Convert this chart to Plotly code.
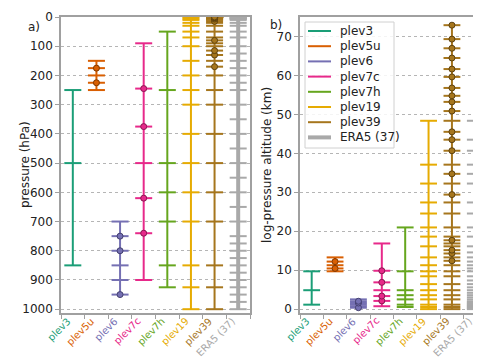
import plotly.graph_objects as go
import numpy as np

schemes = ["plev3", "plev5u", "plev6", "plev7c", "plev7h", "plev19", "plev39", "ERA5 (37)"]
plev3 = [850, 500, 250]
plev5u = [250, 225, 200, 175, 150]
plev6 = [950, 900, 850, 800, 750, 700]
plev7c = [900, 740, 620, 500, 375, 245, 90]
plev7h = [925, 850, 700, 600, 500, 250, 50]
plev19 = [1000, 925, 850, 700, 600, 500, 400, 300, 250, 200, 150, 100, 70, 50, 30, 20, 10, 5, 1]
plev39 = [1000, 925, 850, 700, 600, 500, 400, 300, 250, 200, 170, 150, 130, 115, 100, 90, 80, 70,
          50, 30, 20, 15, 10, 7, 5, 3, 2, 1.5, 1, 0.7, 0.5, 0.4, 0.3, 0.2, 0.15, 0.1, 0.07, 0.05, 0.03]
era5 = [1000, 975, 950, 925, 900, 875, 850, 825, 800, 775, 750, 700, 650, 600, 550, 500, 450, 400,
        350, 300, 250, 225, 200, 175, 150, 125, 100, 70, 50, 30, 20, 10, 7, 5, 3, 2, 1]
levels = [plev3, plev5u, plev6, plev7c, plev7h, plev19, plev39, era5]

colors = ["#1b9e77", "#d95f02", "#7570b3", "#e7298a", "#66a61e", "#e6ab02", "#a6761d", "#a9a9a9"]
edges = ["#0f5c45", "#7f3801", "#444070", "#8a1852", "#3b6111", "#8a6601", "#5e420f", "#555555"]

H = 7.0      # scale height (km)
P0 = 1000.0  # reference pressure (hPa)

# levels used by only one CMIP scheme (marked with dots)
cmip = levels[:7]
counts = {}
for lv in cmip:
    for p in lv:
        counts[p] = counts.get(p, 0) + 1

W = 0.36
fig = go.Figure()

def zfun(p):
    return H * np.log(P0 / np.asarray(p, dtype=float))

panels = [("x", "y", lambda p: np.asarray(p, dtype=float)),
          ("x2", "y2", zfun)]

for xa, ya, f in panels:
    for i, (name, lv, c, e) in enumerate(zip(schemes, levels, colors, edges)):
        vals = f(lv)
        tx, ty = [], []
        for v in vals:
            tx += [i - W, i + W, None]
            ty += [v, v, None]
        vwidth = 4 if i == 7 else 2
        fig.add_trace(go.Scatter(x=tx, y=ty, mode="lines", line=dict(color=c, width=2),
                                 xaxis=xa, yaxis=ya, showlegend=False, hoverinfo="skip"))
        fig.add_trace(go.Scatter(x=[i, i], y=[vals.min(), vals.max()], mode="lines",
                                 line=dict(color=c, width=vwidth), name=name,
                                 xaxis=xa, yaxis=ya, showlegend=False))
        if i < 7:
            dots = [p for p in lv if counts[p] == 1]
            if dots:
                fig.add_trace(go.Scatter(x=[i] * len(dots), y=f(dots), mode="markers",
                                         marker=dict(color=c, size=6, line=dict(color=e, width=1)),
                                         xaxis=xa, yaxis=ya, showlegend=False))

spine = "#a0a0a0"
font = dict(family="DejaVu Sans", size=12, color="#222222")

xcommon = dict(range=[-0.5, 7.5], tickmode="array", tickvals=list(range(8)),
               showticklabels=False, ticks="", showgrid=False, zeroline=False, showline=True,
               linecolor=spine, linewidth=1.5, mirror=True,
               minor=dict(ticks="outside", tick0=0.5, dtick=1, ticklen=4, tickcolor=spine,
                          showgrid=False),
               automargin=False, fixedrange=True)
ycommon = dict(showgrid=True, griddash="dot", gridcolor="#b5b5b5", gridwidth=1, zeroline=False,
               showline=True, linecolor=spine, linewidth=1.5, mirror=True, ticks="outside",
               ticklen=4, tickcolor=spine, tickfont=font, automargin=False)

def px(x):
    return x / 481

def py(y):
    return 1 - y / 359

shapes = [dict(type="rect", xref="paper", yref="paper", x0=px(297), x1=px(386), y0=py(140),
               y1=py(14), line=dict(color="#d0d0d0", width=1), fillcolor="rgba(255,255,255,0.85)",
               layer="above")]
annotations = [
    dict(text="a)", x=px(18), y=py(10), xref="paper", yref="paper", showarrow=False, font=font),
    dict(text="b)", x=px(268), y=py(8), xref="paper", yref="paper", showarrow=False, font=font),
    dict(text="pressure (hPa)", x=px(8), y=py(157), xref="paper", yref="paper",
         showarrow=False, textangle=-90, font=font),
    dict(text="log-pressure altitude (km)", x=px(259), y=py(157), xref="paper",
         yref="paper", showarrow=False, textangle=-90, font=font),
]
for k, (name, c) in enumerate(zip(schemes, colors)):
    yy = 23 + 15.2 * k
    shapes.append(dict(type="line", xref="paper", yref="paper", x0=px(300), x1=px(323),
                       y0=py(yy), y1=py(yy), line=dict(color=c, width=4 if k == 7 else 2),
                       layer="above"))
    annotations.append(dict(text=name, x=px(330), y=py(yy), xref="paper", yref="paper",
                            xanchor="left", yanchor="middle", showarrow=False, font=font))

# rotated category labels under each panel
for xr in ["x", "x2"]:
    for i, (name, c) in enumerate(zip(schemes, colors)):
        annotations.append(dict(text=name, x=i + 0.05, y=py(306), xref=xr, yref="paper",
                                xanchor="right", yanchor="top", textangle=-45, showarrow=False,
                                font=dict(family="DejaVu Sans", size=10, color=c),
                                borderpad=0))

fig.update_layout(
    width=481, height=359,
    margin=dict(l=0, r=0, t=0, b=0),
    paper_bgcolor="white", plot_bgcolor="white",
    font=font, showlegend=False,
    xaxis=dict(domain=[px(53), px(242)], anchor="y", **xcommon),
    yaxis=dict(domain=[py(305), py(9)], anchor="x", range=[1013, 0],
               tickvals=list(range(0, 1001, 100)), **ycommon),
    xaxis2=dict(domain=[px(292), px(479)], anchor="y2", **xcommon),
    yaxis2=dict(domain=[py(305), py(9)], anchor="x2", range=[-1, 75],
                tickvals=list(range(0, 71, 10)), **ycommon),
    shapes=shapes,
    annotations=annotations,
)

fig.write_html("out.html")
